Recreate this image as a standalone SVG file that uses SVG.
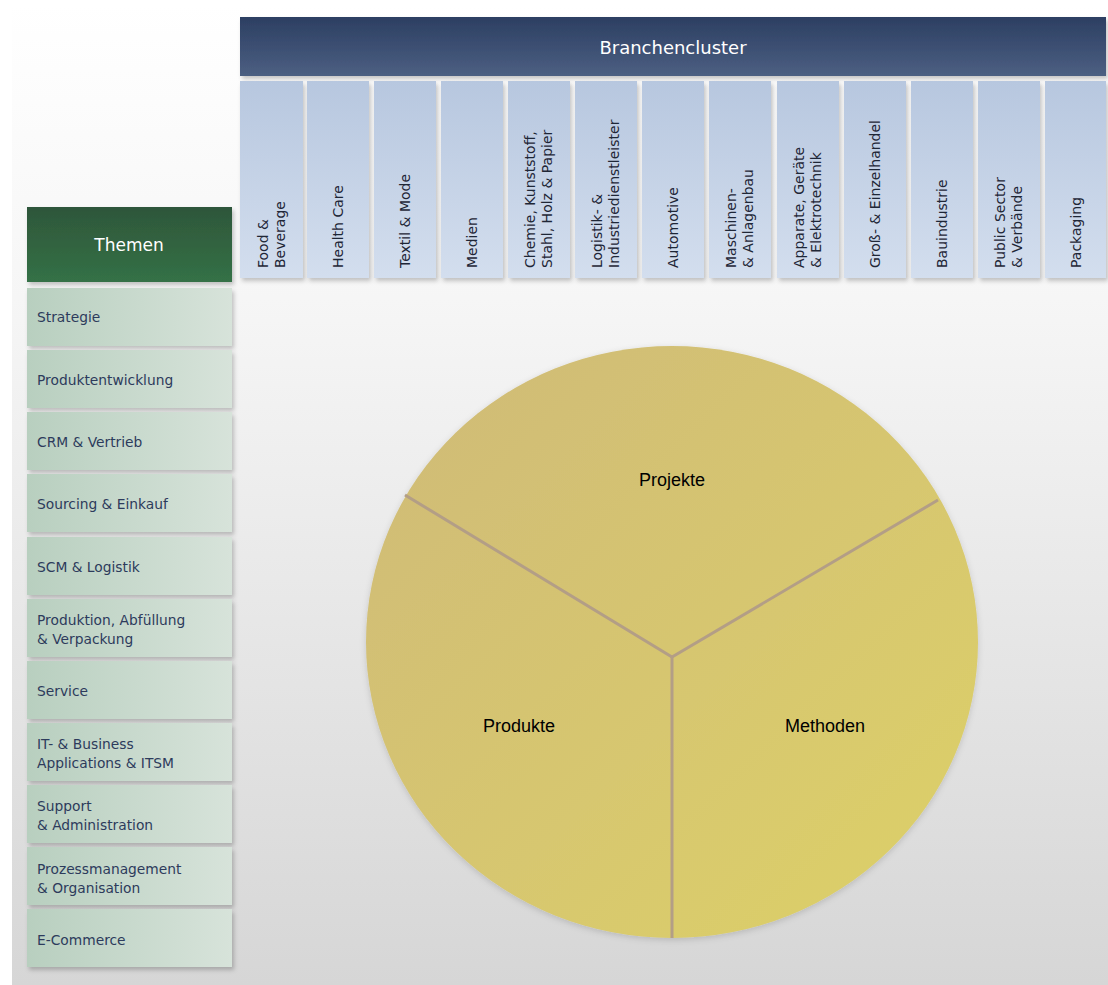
<svg xmlns="http://www.w3.org/2000/svg" width="1108" height="985" viewBox="0 0 1108 985">
<defs>
<linearGradient id="bg" x1="0" y1="0" x2="0" y2="1">
<stop offset="0" stop-color="#ffffff"/>
<stop offset="0.3" stop-color="#f6f6f6"/>
<stop offset="1" stop-color="#d6d6d6"/>
</linearGradient>
<linearGradient id="hdr" x1="0" y1="0" x2="0" y2="1">
<stop offset="0" stop-color="#2c3f62"/>
<stop offset="1" stop-color="#4c5f82"/>
</linearGradient>
<linearGradient id="col" x1="0" y1="0" x2="0" y2="1">
<stop offset="0" stop-color="#b7c7df"/>
<stop offset="1" stop-color="#d3deee"/>
</linearGradient>
<linearGradient id="grn" x1="0" y1="0" x2="0" y2="1">
<stop offset="0" stop-color="#2e563a"/>
<stop offset="1" stop-color="#347146"/>
</linearGradient>
<linearGradient id="itm" x1="0" y1="0" x2="1" y2="0">
<stop offset="0" stop-color="#b8cfbf"/>
<stop offset="1" stop-color="#d7e3da"/>
</linearGradient>
<linearGradient id="pie" x1="0" y1="0" x2="1" y2="1">
<stop offset="0" stop-color="#cfba78"/>
<stop offset="1" stop-color="#ddd168"/>
</linearGradient>
<filter id="sh" x="-10%" y="-10%" width="130%" height="130%">
<feDropShadow dx="2" dy="3" stdDeviation="2" flood-color="#000" flood-opacity="0.22"/>
</filter>
<filter id="shc" x="-10%" y="-10%" width="120%" height="120%">
<feDropShadow dx="0" dy="2" stdDeviation="3" flood-color="#000" flood-opacity="0.15"/>
</filter>
</defs>
<style>
.col{fill:url(#col);filter:url(#sh)}
.ct{font-family:"DejaVu Sans",Verdana,sans-serif;font-size:14px;fill:#1e2636}
.itm{fill:url(#itm);filter:url(#sh)}
.it{font-family:"DejaVu Sans",Verdana,sans-serif;font-size:13.8px;fill:#2d3b5c}
.lbl{font-family:"Liberation Sans",Arial,sans-serif;font-size:18px;fill:#000;text-anchor:middle}
.sep{stroke:#b39e86;stroke-width:3;fill:none}
</style>
<rect x="0" y="0" width="1108" height="985" fill="#ffffff"/>
<rect x="12" y="4" width="1096" height="981" fill="url(#bg)"/>

<g id="header">
<rect x="240" y="17" width="866" height="59" fill="url(#hdr)" filter="url(#sh)"/>
<text x="673" y="54" text-anchor="middle" font-family="DejaVu Sans, Verdana, sans-serif" font-size="18" fill="#ffffff">Branchencluster</text>
</g>

<g id="columns">
<g id="c1"><rect class="col" x="240" y="81" width="63" height="197"/><text class="ct" transform="translate(267.5,268) rotate(-90)">Food &amp;</text><text class="ct" transform="translate(284.5,268) rotate(-90)">Beverage</text></g>
<g id="c2"><rect class="col" x="307" y="81" width="62" height="197"/><text class="ct" transform="translate(343,268) rotate(-90)">Health Care</text></g>
<g id="c3"><rect class="col" x="374" y="81" width="62" height="197"/><text class="ct" transform="translate(410,268) rotate(-90)">Textil &amp; Mode</text></g>
<g id="c4"><rect class="col" x="441" y="81" width="62" height="197"/><text class="ct" transform="translate(477,268) rotate(-90)">Medien</text></g>
<g id="c5"><rect class="col" x="508" y="81" width="62" height="197"/><text class="ct" transform="translate(535,268) rotate(-90)">Chemie, Kunststoff,</text><text class="ct" transform="translate(552,268) rotate(-90)">Stahl, Holz &amp; Papier</text></g>
<g id="c6"><rect class="col" x="575" y="81" width="62" height="197"/><text class="ct" transform="translate(602,268) rotate(-90)">Logistik- &amp;</text><text class="ct" transform="translate(619,268) rotate(-90)">Industriedienstleister</text></g>
<g id="c7"><rect class="col" x="642" y="81" width="62" height="197"/><text class="ct" transform="translate(678,268) rotate(-90)">Automotive</text></g>
<g id="c8"><rect class="col" x="709" y="81" width="62" height="197"/><text class="ct" transform="translate(736,268) rotate(-90)">Maschinen-</text><text class="ct" transform="translate(753,268) rotate(-90)">&amp; Anlagenbau</text></g>
<g id="c9"><rect class="col" x="777" y="81" width="62" height="197"/><text class="ct" transform="translate(804,268) rotate(-90)">Apparate, Geräte</text><text class="ct" transform="translate(821,268) rotate(-90)">&amp; Elektrotechnik</text></g>
<g id="c10"><rect class="col" x="844" y="81" width="62" height="197"/><text class="ct" transform="translate(880,268) rotate(-90)">Groß- &amp; Einzelhandel</text></g>
<g id="c11"><rect class="col" x="911" y="81" width="62" height="197"/><text class="ct" transform="translate(947,268) rotate(-90)">Bauindustrie</text></g>
<g id="c12"><rect class="col" x="978" y="81" width="62" height="197"/><text class="ct" transform="translate(1005,268) rotate(-90)">Public Sector</text><text class="ct" transform="translate(1022,268) rotate(-90)">&amp; Verbände</text></g>
<g id="c13"><rect class="col" x="1045" y="81" width="61" height="197"/><text class="ct" transform="translate(1081,268) rotate(-90)">Packaging</text></g>
</g>

<g id="themen">
<rect x="27" y="207" width="205" height="75" fill="url(#grn)" filter="url(#sh)"/>
<text x="129" y="251" text-anchor="middle" font-family="DejaVu Sans, Verdana, sans-serif" font-size="17" fill="#ffffff">Themen</text>
</g>

<g id="items">
<g id="i1"><rect class="itm" x="27" y="288" width="205" height="58"/><text class="it" x="37" y="322">Strategie</text></g>
<g id="i2"><rect class="itm" x="27" y="350" width="205" height="58"/><text class="it" x="37" y="385">Produktentwicklung</text></g>
<g id="i3"><rect class="itm" x="27" y="412" width="205" height="58"/><text class="it" x="37" y="447">CRM &amp; Vertrieb</text></g>
<g id="i4"><rect class="itm" x="27" y="474" width="205" height="58"/><text class="it" x="37" y="509">Sourcing &amp; Einkauf</text></g>
<g id="i5"><rect class="itm" x="27" y="537" width="205" height="58"/><text class="it" x="37" y="572">SCM &amp; Logistik</text></g>
<g id="i6"><rect class="itm" x="27" y="599" width="205" height="58"/><text class="it" x="37" y="625">Produktion, Abfüllung</text><text class="it" x="37" y="644">&amp; Verpackung</text></g>
<g id="i7"><rect class="itm" x="27" y="661" width="205" height="58"/><text class="it" x="37" y="696">Service</text></g>
<g id="i8"><rect class="itm" x="27" y="723" width="205" height="58"/><text class="it" x="37" y="749">IT- &amp; Business</text><text class="it" x="37" y="768">Applications &amp; ITSM</text></g>
<g id="i9"><rect class="itm" x="27" y="785" width="205" height="58"/><text class="it" x="37" y="811">Support</text><text class="it" x="37" y="830">&amp; Administration</text></g>
<g id="i10"><rect class="itm" x="27" y="847" width="205" height="58"/><text class="it" x="37" y="874">Prozessmanagement</text><text class="it" x="37" y="893">&amp; Organisation</text></g>
<g id="i11"><rect class="itm" x="27" y="909" width="205" height="58"/><text class="it" x="37" y="945">E-Commerce</text></g>
</g>

<g id="pie">
<ellipse cx="672" cy="642" rx="306" ry="296" fill="url(#pie)" filter="url(#shc)"/>
</g>
<g id="connectors">
<polyline class="sep" points="405,495 672,657 938,500"/>
<line class="sep" x1="672" y1="657" x2="672" y2="938"/>
</g>
<g id="labels">
<text class="lbl" x="672" y="486">Projekte</text>
<text class="lbl" x="519" y="732">Produkte</text>
<text class="lbl" x="825" y="732">Methoden</text>
</g>
</svg>
